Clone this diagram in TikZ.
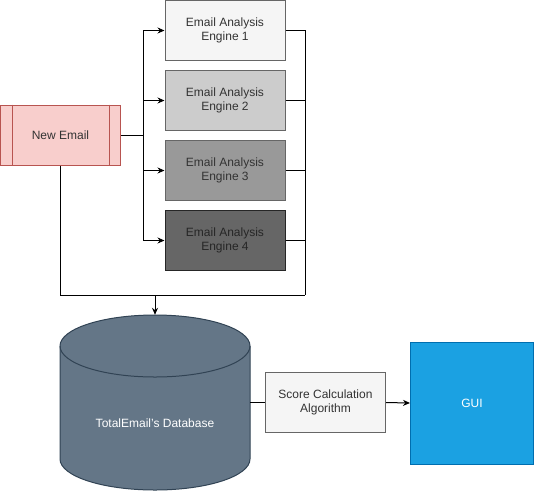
\documentclass[tikz,border=0pt]{standalone}
\usepackage{fontspec}
\setmainfont{Liberation Sans}
\usetikzlibrary{
    arrows.meta,
    positioning,
    calc,
}

\definecolor{pinkfill}{HTML}{F8CECC}
\definecolor{pinkline}{HTML}{B85450}
\definecolor{dbfill}{HTML}{647687}
\definecolor{dbline}{HTML}{314354}
\definecolor{guifill}{HTML}{1BA1E2}
\definecolor{guiline}{HTML}{006EAF}

\begin{document}
\begin{tikzpicture}[
    x=1pt, y=-1pt,
    node distance= 9pt,
    font=\fontsize{12}{14}\selectfont,
    box/.style={draw, line width=1pt, minimum width=120pt, minimum height=60pt, align=center, inner sep=0pt, text=black!80},
    engine/.style={box, draw=black!60},
    line/.style={line width=1pt},
    arrow/.style={line, -{Stealth[length=7pt, width=6pt]}},
]

\useasboundingbox (0,0) rectangle (534,491);

\node[box, fill=pinkfill, draw=pinkline] (new) at (60.5,135) {New Email};
\draw[pinkline, line width=1pt] ($(new.north west)+(12,0)$) -- ($(new.south west)+(12,0)$);
\draw[pinkline, line width=1pt] ($(new.north east)+(-12,0)$) -- ($(new.south east)+(-12,0)$);

\node[engine, fill=black!4] (e1) at (225,30.5) {Email Analysis\\Engine 1};
\node[engine, fill=black!20] (e2) [below=of e1] {Email Analysis\\Engine 2};
\node[engine, fill=black!40] (e3) [below=of e2] {Email Analysis\\Engine 3};
\node[engine, fill=black!60, draw=black!85, text=black!85] (e4) [below=of e3] {Email Analysis\\Engine 4};

% database cylinder
\path[fill=dbfill, draw=dbline, line width=1pt] (60,346) -- (60,459)
    arc[start angle=180, end angle=360, x radius=95pt, y radius=31pt] -- (250,346)
    arc[start angle=0, end angle=180, x radius=95pt, y radius=31pt] -- cycle;
\draw[dbline, line width=1pt] (60,346) arc[start angle=180, end angle=360, x radius=95pt, y radius=31pt];
\node[minimum width=190pt, minimum height=175pt, inner sep=0pt] (db) at (155,402.5) {};
\node[text=white] (dbtext) at (155,423) {TotalEmail's Database};

\node[box, fill=black!4, draw=black!60] (score) at (325.5,402.5) {Score Calculation\\Algorithm};
\node[box, fill=guifill, draw=guiline, text=white, minimum width=123pt, minimum height=122pt] (gui) at (472,403) {GUI};

\coordinate (split) at (143.5,135);
\coordinate (join) at (305,295);
\coordinate (drop) at (155,295);

\draw[line] (new.east) -- (split);
\draw[arrow] (split) |- (e1.west);
\draw[arrow] (split) |- (e2.west);
\draw[arrow] (split) |- (e3.west);
\draw[arrow] (split) |- (e4.west);

\draw[line] (e1.east) -| (join);
\draw[line] (e2.east) -| (join);
\draw[line] (e3.east) -| (join);
\draw[line] (e4.east) -| (join);
\draw[line] (new.south) |- (join);
\draw[arrow] (drop) -- (db.north);

\draw[line] (db.east) -- (score.west);
\draw[arrow] (score.east) -- (gui.west);

\end{tikzpicture}
\end{document}
